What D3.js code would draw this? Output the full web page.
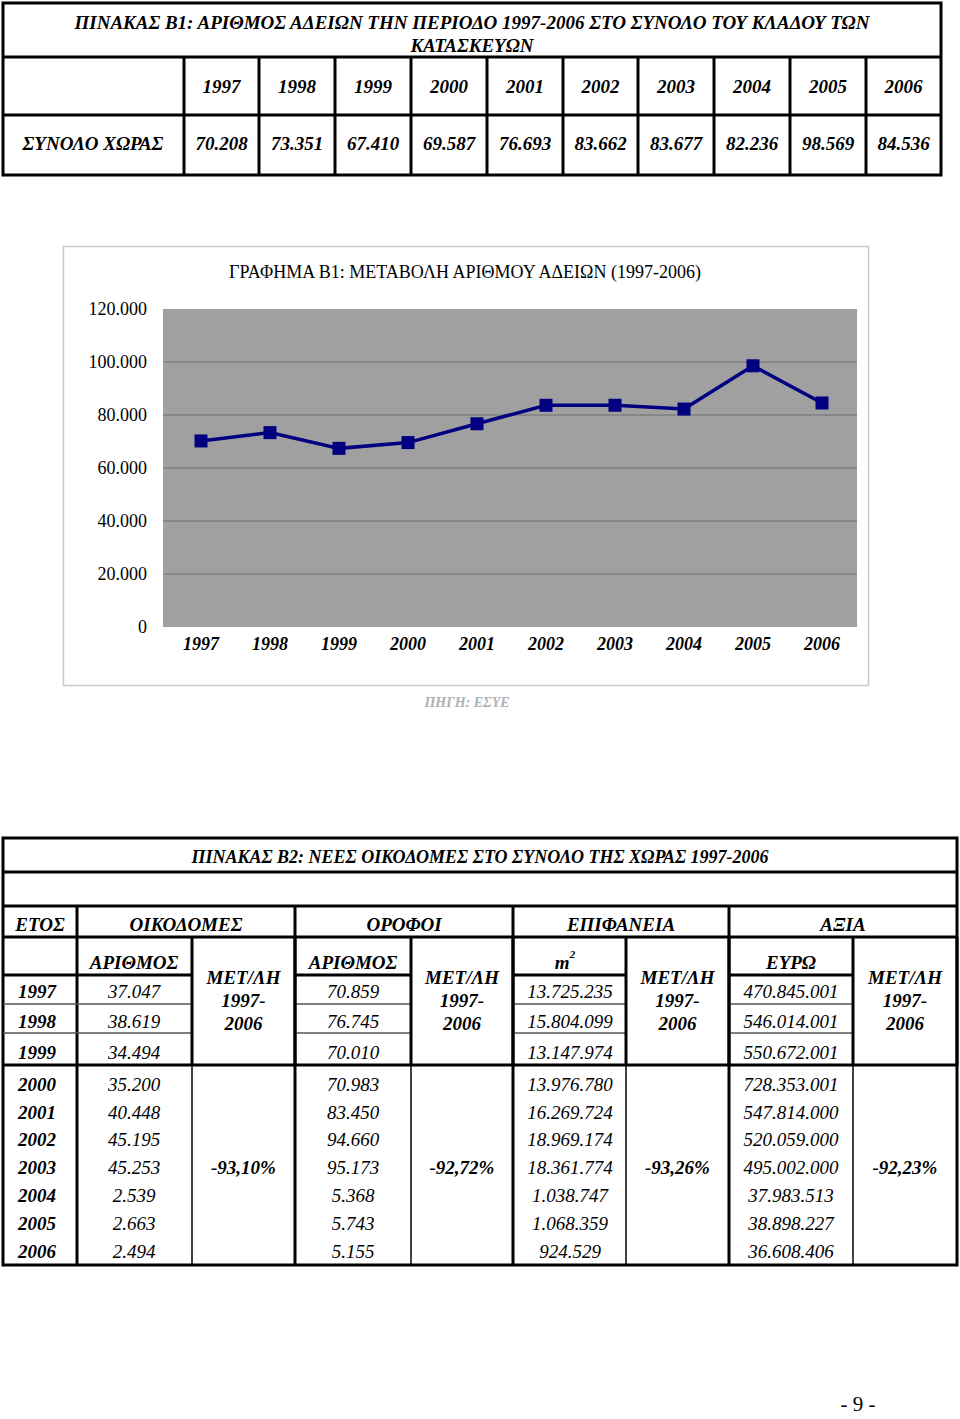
<!DOCTYPE html>
<html><head><meta charset="utf-8">
<script src="https://cdn.jsdelivr.net/npm/d3@7"></script>
<style>body{margin:0;background:#fff}svg{display:block}</style>
</head><body>
<svg id="c" width="960" height="1419"></svg>
<script>
const years=["1997","1998","1999","2000","2001","2002","2003","2004","2005","2006"];
const permits=[70208,73351,67410,69587,76693,83662,83677,82236,98569,84536];
const permitLabels=["70.208","73.351","67.410","69.587","76.693","83.662","83.677","82.236","98.569","84.536"];
const yTicks=[0,20000,40000,60000,80000,100000,120000];
const yTickLabels=["0","20.000","40.000","60.000","80.000","100.000","120.000"];
const buildings=["37.047","38.619","34.494","35.200","40.448","45.195","45.253","2.539","2.663","2.494"];
const floors=["70.859","76.745","70.010","70.983","83.450","94.660","95.173","5.368","5.743","5.155"];
const surface=["13.725.235","15.804.099","13.147.974","13.976.780","16.269.724","18.969.174","18.361.774","1.038.747","1.068.359","924.529"];
const value=["470.845.001","546.014.001","550.672.001","728.353.001","547.814.000","520.059.000","495.002.000","37.983.513","38.898.227","36.608.406"];
const changes=["-93,10%","-92,72%","-93,26%","-92,23%"];

const FF="'Liberation Serif','Times New Roman',Tinos,'DejaVu Serif',serif";
const svg=d3.select("#c").attr("font-family",FF);
const T=(x,y,s,o={})=>svg.append("text").attr("x",x).attr("y",y).text(s).attr("font-family",FF)
  .attr("font-size",o.fs||19).attr("font-weight",o.w||"bold").attr("font-style",o.st||"italic")
  .attr("text-anchor",o.a||"middle").attr("fill",o.c||"#000").attr("dominant-baseline","central");
const L=(x1,y1,x2,y2,w=3,c="#000")=>svg.append("line").attr("x1",x1).attr("y1",y1).attr("x2",x2).attr("y2",y2).attr("stroke",c).attr("stroke-width",w);

// ---- Table B1
const b1x=[3,184,259,335,411,487,563,638,714,790,866,941];
svg.append("rect").attr("x",3).attr("y",3).attr("width",938).attr("height",172).attr("fill","none").attr("stroke","#000").attr("stroke-width",3);
L(3,57,941,57);L(3,115,941,115);
b1x.slice(1,-1).forEach(x=>L(x,57,x,175));
T(472,22,"ΠΙΝΑΚΑΣ Β1: ΑΡΙΘΜΟΣ ΑΔΕΙΩΝ ΤΗΝ ΠΕΡΙΟΔΟ 1997-2006 ΣΤΟ ΣΥΝΟΛΟ ΤΟΥ ΚΛΑΔΟΥ ΤΩΝ");
T(472,45,"ΚΑΤΑΣΚΕΥΩΝ");
T(93,143,"ΣΥΝΟΛΟ ΧΩΡΑΣ");
years.forEach((y,i)=>{const cx=(b1x[i+1]+b1x[i+2])/2;T(cx,86,y);T(cx,143,permitLabels[i]);});

// ---- Chart
svg.append("rect").attr("x",63.5).attr("y",246.5).attr("width",805).attr("height",439).attr("fill","#fff").attr("stroke","#c8c8c8").attr("stroke-width",1.5);
const x=d3.scalePoint().domain(years).range([201,822]);
const y=d3.scaleLinear().domain([0,120000]).range([627,309]);
svg.append("rect").attr("x",163).attr("y",309).attr("width",694).attr("height",318).attr("fill","#a0a0a0");
svg.append("g").selectAll("line").data(yTicks.slice(1,-1)).join("line")
  .attr("x1",163).attr("x2",857).attr("y1",d=>y(d)).attr("y2",d=>y(d)).attr("stroke","#6e6e6e").attr("stroke-width",1);
yTicks.forEach((t,i)=>T(147,y(t),yTickLabels[i],{fs:18,w:"normal",st:"normal",a:"end"}));
years.forEach(yr=>T(x(yr),644,yr,{fs:18}));
T(465,272,"ΓΡΑΦΗΜΑ Β1: ΜΕΤΑΒΟΛΗ ΑΡΙΘΜΟΥ ΑΔΕΙΩΝ (1997-2006)",{fs:18,w:"normal",st:"normal"});
svg.append("path").datum(permits.map((v,i)=>[x(years[i]),y(v)]))
  .attr("d",d3.line()).attr("fill","none").attr("stroke","#000080").attr("stroke-width",3.5);
svg.append("g").selectAll("rect").data(permits).join("rect")
  .attr("x",(d,i)=>x(years[i])-6.5).attr("y",d=>y(d)-6.5).attr("width",13).attr("height",13).attr("fill","#000080");
T(467,702,"ΠΗΓΗ: ΕΣΥΕ",{fs:14,c:"#b0b0b0"});

// ---- Table B2
svg.append("rect").attr("x",3).attr("y",838).attr("width",954).attr("height",427).attr("fill","none").attr("stroke","#000").attr("stroke-width",3);
L(3,872,957,872);L(3,906,957,906);L(3,937,957,937);
[77,295,513,729].forEach(v=>L(v,906,v,1265));
[[3,192],[295,411],[513,626],[729,853]].forEach(([a,b])=>{L(a,975,b,975,3);L(a,1004,b,1004,1.5,"#555");L(a,1033,b,1033,1.5,"#555");});
L(3,1065,957,1065);
[[192,295],[411,513],[626,729],[853,957]].forEach(([a,b])=>{L(a,937,a,1065);L(b,937,b,1065);
  T((a+b)/2,977,"ΜΕΤ/ΛΗ",{fs:19});T((a+b)/2,1000,"1997-",{fs:19});T((a+b)/2,1023,"2006",{fs:19});});
[192,411,626,853].forEach(v=>L(v,1065,v,1265,1.5));
T(480,857,"ΠΙΝΑΚΑΣ Β2: ΝΕΕΣ ΟΙΚΟΔΟΜΕΣ ΣΤΟ ΣΥΝΟΛΟ ΤΗΣ ΧΩΡΑΣ 1997-2006",{fs:18});
T(40,924,"ΕΤΟΣ",{fs:19});T(186,924,"ΟΙΚΟΔΟΜΕΣ",{fs:19});T(404,924,"ΟΡΟΦΟΙ",{fs:19});T(621,924,"ΕΠΙΦΑΝΕΙΑ",{fs:19});T(843,924,"ΑΞΙΑ",{fs:19});
T(134,962,"ΑΡΙΘΜΟΣ",{fs:19});T(353,962,"ΑΡΙΘΜΟΣ",{fs:19});T(791,962,"ΕΥΡΩ",{fs:19});
const m2=T(565,962,"m",{fs:19});m2.append("tspan").attr("dy",-8).attr("font-size",11).text("2");
const centers=[991,1021,1052,1084,1112,1139,1167,1195,1223,1251];
years.forEach((yr,i)=>{const c=centers[i];
  T(18,c,yr,{fs:19,a:"start"});
  T(134,c,buildings[i],{fs:19,w:"normal"});
  T(353,c,floors[i],{fs:19,w:"normal"});
  T(570,c,surface[i],{fs:19,w:"normal"});
  T(791,c,value[i],{fs:19,w:"normal"});});
[[192,295],[411,513],[626,729],[853,957]].forEach(([a,b],k)=>T((a+b)/2,1167,changes[k],{fs:19}));
T(858,1404,"- 9 -",{fs:21,w:"normal",st:"normal"});
</script></body></html>
